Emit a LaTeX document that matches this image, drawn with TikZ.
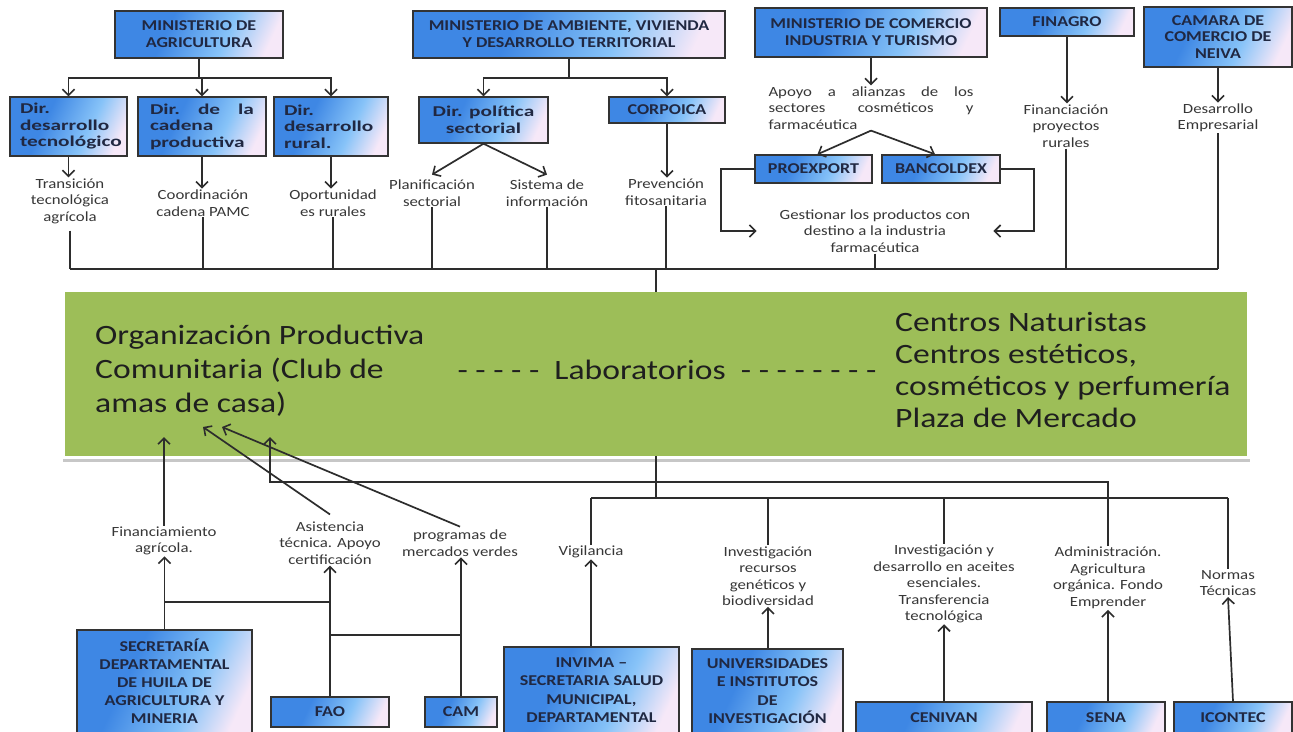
\documentclass[tikz,border=0pt]{standalone}
\usepackage{fontspec}
\setmainfont{Carlito}[FakeStretch=1.2]
\newfontfamily\dirfont{Carlito}[FakeStretch=1.42]
\usetikzlibrary{arrows.meta}
\definecolor{boxblue}{RGB}{62,135,228}
\definecolor{boxmid}{RGB}{135,195,248}
\definecolor{boxpink}{RGB}{246,232,248}
\definecolor{ink}{RGB}{32,40,66}
\definecolor{lblc}{RGB}{55,55,55}
\definecolor{linec}{RGB}{45,45,45}
\definecolor{bandgreen}{RGB}{157,190,88}
\pgfdeclarehorizontalshading{boxshade}{100bp}{color(0bp)=(boxblue); color(38bp)=(boxblue); color(60bp)=(boxmid); color(76bp)=(boxpink); color(100bp)=(boxpink)}
\newcommand{\jline}[2]{\leavevmode\hbox to #1{#2}}
\begin{document}
\begin{tikzpicture}[x=1pt,y=-1pt,
 box/.style={draw=black!80, line width=1.4pt, shading=boxshade, shading angle=-25, text=ink, font=\bfseries\fontsize{15}{17}\selectfont, align=center, inner sep=1pt},
 dirbox/.style={box, font=\dirfont\bfseries\fontsize{15}{16.5}\selectfont, align=left},
 lbl/.style={text=lblc, font=\fontsize{14}{16.5}\selectfont, align=center, inner sep=1pt},
 arr/.style={-{Straight Barb[length=6pt,width=12pt,line width=1.6pt]}, line width=1.7pt, draw=linec},
 ln/.style={line width=1.7pt, draw=linec},
 thin/.style={line width=1.1pt, draw=linec}]
\useasboundingbox (0,0) rectangle (1293,731);
\fill[white] (0,0) rectangle (1293,731);

% ---------- green band ----------
\draw[line width=3pt, black!22] (63,460) -- (1250,460);
\node[fill=bandgreen, minimum width=1182pt, minimum height=164pt, inner sep=0] (green) at (656,374) {};
\node[anchor=west, align=left, inner sep=0, text=black!88, font=\fontsize{28}{34}\selectfont] (org) at (95,371) {Organización Productiva\\Comunitaria (Club de\\amas de casa)};
\node[inner sep=0, text=black!88, font=\fontsize{28}{34}\selectfont] (lab) at (667,370) {- - - - -\ \ Laboratorios\ \ - - - - - - - -};
\node[anchor=west, align=left, inner sep=0, text=black!88, font=\fontsize{28}{32}\selectfont] (centros) at (895,370) {Centros Naturistas\\Centros estéticos,\\cosméticos y perfumería\\Plaza de Mercado};

% ---------- top boxes ----------
\node[box, minimum width=168pt, minimum height=47pt] (minag) at (199,34.5) {MINISTERIO DE\\AGRICULTURA};
\node[dirbox, minimum width=117pt, minimum height=59pt, text width=97pt] (dirtec) at (68.5,126.5) {Dir.\\desarrollo\\tecnológico};
\node[dirbox, minimum width=128pt, minimum height=59pt, text width=104pt] (dircad) at (202,126.5) {\jline{104pt}{Dir.\hfill de\hfill la}\\cadena\\productiva};
\node[dirbox, minimum width=114pt, minimum height=59pt, text width=94pt] (dirrur) at (331,126.5) {Dir.\\desarrollo\\rural.};
\node[box, minimum width=312pt, minimum height=47pt] (minamb) at (569,34.5) {MINISTERIO DE AMBIENTE, VIVIENDA\\Y DESARROLLO TERRITORIAL};
\node[box, font=\dirfont\bfseries\fontsize{15}{17}\selectfont, minimum width=129pt, minimum height=46pt] (dirpol) at (483.5,120) {Dir. política\\sectorial};
\node[box, minimum width=116pt, minimum height=26pt] (corpoica) at (667,110) {CORPOICA};
\node[box, minimum width=232pt, minimum height=49pt] (mincom) at (871,32.5) {MINISTERIO DE COMERCIO\\INDUSTRIA Y TURISMO};
\node[box, minimum width=134pt, minimum height=28pt] (finagro) at (1067,22) {FINAGRO};
\node[box, font=\bfseries\fontsize{15}{16.5}\selectfont, minimum width=148pt, minimum height=60pt] (camara) at (1218,37) {CAMARA DE\\COMERCIO DE\\NEIVA};
\node[box, minimum width=117pt, minimum height=28pt] (proexport) at (813.5,169) {PROEXPORT};
\node[box, minimum width=118pt, minimum height=28pt] (bancoldex) at (941,169) {BANCOLDEX};

% ---------- top labels ----------
\node[lbl] (transicion) at (70,201) {Transición\\tecnológica\\agrícola};
\node[lbl] (coord) at (203,203) {Coordinación\\cadena PAMC};
\node[lbl] (oport) at (333,203) {Oportunidad\\es rurales};
\node[lbl] (planif) at (432,193) {Planificación\\sectorial};
\node[lbl] (sistema) at (547,193) {Sistema de\\información};
\node[lbl] (prevencion) at (666,192) {Prevención\\fitosanitaria};
\node[lbl, align=left, text width=205pt] (apoyo) at (871,108) {\jline{205pt}{Apoyo\hfill a\hfill alianzas\hfill de\hfill los}\\\jline{205pt}{sectores\hfill cosméticos\hfill y}\\farmacéutica};
\node[lbl] (gestionar) at (875,231) {Gestionar los productos con\\destino a la industria\\farmacéutica};
\node[lbl] (financiacion) at (1066,126) {Financiación\\proyectos\\rurales};
\node[lbl] (desarrollo) at (1218,118) {Desarrollo\\Empresarial};

% ---------- top connectors ----------
\coordinate (topbus) at (0,269);
\draw[ln] (minag.south) -- ++(0,19) coordinate (ma);
\draw[arr] (ma) -| (dirtec.north);
\draw[arr] (ma) -| (dircad.north);
\draw[arr] (ma) -| (dirrur.north);
\draw[arr] (dirtec.south) -- (dirtec.south |- transicion.north);
\draw[arr] (dircad.south) -- (dircad.south |- coord.north);
\draw[arr] (dirrur.south) -- (dirrur.south |- oport.north);
\draw[ln] (minamb.south) -- ++(0,19) coordinate (mb);
\draw[arr] (mb) -| (dirpol.north);
\draw[arr] (mb) -| (corpoica.north);
\draw[arr] (dirpol.south) -- ([yshift=4pt]planif.north);
\draw[arr] (dirpol.south) -- ([yshift=4pt]sistema.north);
\draw[arr] (corpoica.south) -- (corpoica.south |- prevencion.north);
\draw[arr] (mincom.south) -- (apoyo.north);
\draw[arr] (apoyo.south) -- ([xshift=4pt]proexport.north);
\draw[arr] (apoyo.south) -- ([xshift=-6pt]bancoldex.north);
\draw[arr] (proexport.west) -- ++(-33,0) |- ([xshift=-22pt]gestionar.west);
\draw[arr] (bancoldex.east) -- ++(33,0) |- ([xshift=22pt]gestionar.east);
\draw[arr] (finagro.south) -- (finagro.south |- financiacion.north);
\draw[arr] (camara.south) -- (camara.south |- desarrollo.north);
% to bus
\draw[ln] ([yshift=-6pt]transicion.south) -- (transicion.south |- topbus);
\draw[ln] (coord.south) -- (coord.south |- topbus);
\draw[ln] (oport.south) -- (oport.south |- topbus);
\draw[ln] (planif.south) -- (planif.south |- topbus);
\draw[ln] (sistema.south) -- (sistema.south |- topbus);
\draw[ln] (prevencion.south) -- (prevencion.south |- topbus);
\draw[ln] (gestionar.south) -- (gestionar.south |- topbus);
\draw[ln] (financiacion.south) -- (financiacion.south |- topbus);
\draw[ln] (desarrollo.south) -- (desarrollo.south |- topbus);
\draw[ln] (transicion.south |- topbus) -- (desarrollo.south |- topbus);
\draw[ln] (green.north |- topbus) -- (green.north);

% ---------- bottom boxes ----------
\node[box, font=\bfseries\fontsize{15}{18}\selectfont, minimum width=175pt, minimum height=103pt] (secretaria) at (164.5,681.5) {SECRETARÍA\\DEPARTAMENTAL\\DE HUILA DE\\AGRICULTURA Y\\MINERIA};
\node[box, minimum width=118pt, minimum height=30pt] (fao) at (330,712) {FAO};
\node[box, minimum width=72pt, minimum height=30pt] (cam) at (461,712) {CAM};
\node[box, font=\bfseries\fontsize{15}{18.3}\selectfont, minimum width=175pt, minimum height=86pt] (invima) at (591.5,690) {INVIMA –\\SECRETARIA SALUD\\MUNICIPAL,\\DEPARTAMENTAL};
\node[box, font=\bfseries\fontsize{15}{18.3}\selectfont, minimum width=151pt, minimum height=84pt] (univ) at (767.5,691) {UNIVERSIDADES\\E INSTITUTOS\\DE\\INVESTIGACIÓN};
\node[box, minimum width=176pt, minimum height=31pt] (cenivan) at (944,717.5) {CENIVAN};
\node[box, minimum width=118pt, minimum height=31pt] (sena) at (1106,717.5) {SENA};
\node[box, minimum width=118pt, minimum height=31pt] (icontec) at (1233,717.5) {ICONTEC};

% ---------- bottom labels ----------
\node[lbl] (financiamiento) at (164,541) {Financiamiento\\agrícola.};
\node[lbl] (asistencia) at (330,543) {Asistencia\\técnica. Apoyo\\certificación};
\node[lbl] (programas) at (460,543) {programas de\\mercados verdes};
\node[lbl] (vigilancia) at (591,552) {Vigilancia};
\node[lbl] (invrec) at (768,576) {Investigación\\recursos\\genéticos y\\biodiversidad};
\node[lbl] (invdes) at (944,584) {Investigación y\\desarrollo en aceites\\esenciales.\\Transferencia\\tecnológica};
\node[lbl] (admin) at (1108,578) {Administración.\\Agricultura\\orgánica. Fondo\\Emprender};
\node[lbl] (normas) at (1228,583) {Normas\\Técnicas};

% ---------- bottom connectors ----------
\coordinate (tipA) at (164,437);
\coordinate (tipB) at (203,427);
\coordinate (tipC) at (222,427);
\coordinate (tipD) at (270,437);
\coordinate (h1) at (0,602);
\coordinate (h2) at (0,635);
\coordinate (bus2) at (0,498);
\coordinate (bus3) at (0,482);
\draw[arr] (secretaria.north) -- (secretaria.north |- financiamiento.south);
\draw[arr] (financiamiento.north) -- (tipA);
\draw[thin] (secretaria.north |- h1) -- (fao.north |- h1);
\draw[arr] (fao.north) -- (fao.north |- asistencia.south);
\draw[thin] (fao.north |- h2) -- (cam.north |- h2);
\draw[arr] (cam.north) -- (cam.north |- programas.south);
\draw[arr] ([yshift=6pt]asistencia.north) -- (tipB);
\draw[arr] ([yshift=2pt]programas.north) -- (tipC);
\draw[arr] (admin.north) |- (tipD |- bus3) -- (tipD);
\draw[ln] (green.south) -- (green.south |- bus2);
\draw[ln] (vigilancia.north |- bus2) -- (normas.north |- bus2);
\draw[ln] (vigilancia.north |- bus2) -- (vigilancia.north);
\draw[ln] (invrec.north |- bus2) -- (invrec.north);
\draw[ln] (invdes.north |- bus2) -- (invdes.north);
\draw[ln] (normas.north |- bus2) -- (normas.north);
\draw[arr] (invima.north -| vigilancia.south) -- (vigilancia.south);
\draw[arr] (univ.north -| invrec.south) -- (invrec.south);
\draw[arr] (cenivan.north -| invdes.south) -- (invdes.south);
\draw[arr] (sena.north -| admin.south) -- (admin.south);
\draw[arr] (icontec.north) -- (normas.south);
\end{tikzpicture}
\end{document}
